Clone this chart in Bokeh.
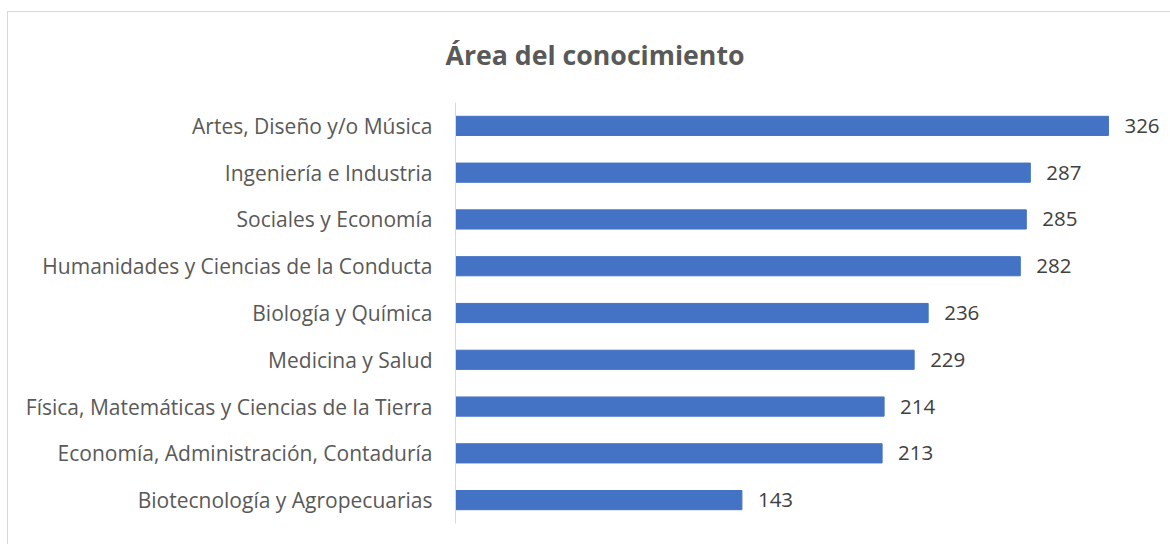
from bokeh.plotting import figure
from bokeh.models import ColumnDataSource, FactorRange, Title
from bokeh.embed import file_html
from bokeh.resources import INLINE
from bokeh.core.properties import value

title = "Área del conocimiento"
areas = [
    "Artes, Diseño y/o Música",
    "Ingeniería e Industria",
    "Sociales y Economía",
    "Humanidades y Ciencias de la Conducta",
    "Biología y Química",
    "Medicina y Salud",
    "Física, Matemáticas y Ciencias de la Tierra",
    "Economía, Administración, Contaduría",
    "Biotecnología y Agropecuarias",
]
counts = [326, 287, 285, 282, 236, 229, 214, 213, 143]

src = ColumnDataSource(dict(area=areas, count=counts, label=[str(c) for c in counts]))

FONT = "Open Sans"

p = figure(
    width=1163, height=533, title=None,
    y_range=FactorRange(factors=list(reversed(areas))),
    x_range=(0, 352),
    output_backend="svg", toolbar_location=None,
    min_border_left=447, min_border_right=11, min_border_top=0, min_border_bottom=22,
    margin=(11, 0, 0, 7),
)
p.styles = {"border-top": "1px solid #d9d9d9", "border-left": "1px solid #d9d9d9"}

p.hbar(y="area", right="count", left=0, height=0.41, source=src,
       fill_color="#4472C4", line_color="#4472C4")
p.text(x="count", y="area", text="label", source=src, x_offset=16,
       text_baseline="middle", text_align="left", text_color="#404040",
       text_font=value(FONT), text_font_size="20.5px")

# small spacer between the title and the plot frame
p.add_layout(Title(text=" ", text_font_size="1px", standoff=6), "above")
p.add_layout(Title(
    text=title, align="left", offset=-10, standoff=42,
    text_font=FONT, text_font_style="bold", text_font_size="26.7px",
    text_color="#595959",
), "above")

p.xaxis.visible = False
p.xgrid.visible = False
p.ygrid.visible = False
p.outline_line_color = None

ax = p.yaxis[0]
ax.axis_line_color = "#d9d9d9"
ax.major_tick_line_color = None
ax.minor_tick_line_color = None
ax.major_label_text_font = FONT
ax.major_label_text_font_size = "21px"
ax.major_label_text_color = "#595959"
ax.major_label_standoff = 17

open("out.html", "w").write(file_html(p, INLINE))
